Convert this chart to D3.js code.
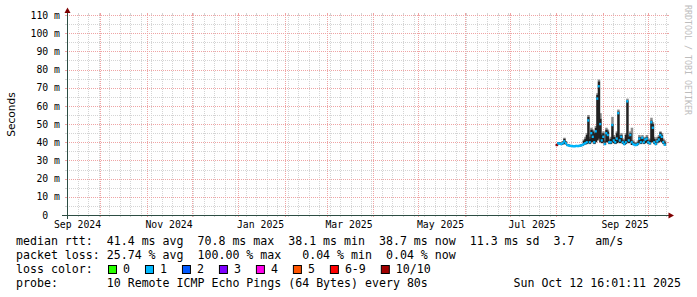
<!DOCTYPE html>
<html>
<head>
<meta charset="utf-8">
<script src="https://cdn.jsdelivr.net/npm/d3@7"></script>
<style>
body { margin: 0; background: #fff; }
text { font-family: "DejaVu Sans Mono", monospace; white-space: pre; }
</style>
</head>
<body>
<svg id="chart" width="697" height="297"></svg>
<script>
// one sample per day, first one is Aug 1 2025
var firstDay = new Date(2025, 7, 1)

// median rtt (ms) per day
var median = [38.5, 39.4, 39.2, 39, 39.5, 40.5, 39.5, 38.5, 38.2, 38,
  38, 37.8, 37.8, 38, 37.9, 38, 38.2, 38.5, 39, 39.5,
  40, 52, 40, 45, 43, 40, 46, 64, 70.8, 50,
  41, 43, 39, 45, 44, 40, 40, 49.5, 41, 40,
  42, 56, 41, 43, 40, 39, 40, 62.5, 41, 44,
  40, 39, 38.5, 38.5, 39, 42, 40, 42.5, 40, 41.5,
  42, 40, 39.5, 51, 48, 40, 39, 40.5, 41.5, 44,
  43, 40, 38.7]

// smoke (dark part) low / high, and light grey cap on top
var smokeLo = [38, 38.8, 38.6, 38.5, 38.8, 39, 38.8, 38, 37.8, 37.6,
  37.5, 37.4, 37.4, 37.5, 37.5, 37.6, 37.8, 38, 38.5, 38.8,
  39, 39.5, 39, 40, 40, 39, 40, 41, 42, 40,
  39.5, 40, 38.5, 40, 40, 39, 39, 40, 39.5, 39,
  39.5, 40, 39.5, 40, 39, 38.5, 39, 40, 39.5, 40,
  38.5, 38.5, 38, 38, 38.5, 39.5, 39, 40, 39, 39.5,
  40, 39, 38.8, 40, 40, 39, 38.5, 39.5, 40, 40.5,
  40, 39, 38.2]
var smokeHi = [39, 40, 40, 39.5, 40.5, 42, 40.5, 39, 38.8, 38.5,
  38.5, 38.3, 38.3, 38.5, 38.4, 38.5, 38.8, 39, 41, 42,
  44, 54, 42, 47, 46, 45, 48, 66, 73.5, 53,
  44, 45, 40, 47, 46, 41, 42, 50, 43, 42,
  45, 57, 43, 44, 41, 41, 44, 63, 43, 45,
  41, 40, 39, 39.5, 40, 43, 42, 43, 41, 42.5,
  43, 41, 41, 52, 50, 42, 40, 42, 43, 45.5,
  44, 41, 40]
var smokeTop = [39, 40, 40, 39.5, 40.5, 42.5, 40.5, 39, 38.8, 38.5,
  38.5, 38.3, 38.3, 38.5, 38.4, 38.5, 38.8, 39, 41.5, 43,
  45, 55, 43, 48, 47, 46, 49, 67, 74.5, 56,
  45, 46, 41, 48, 47, 42, 43, 54, 44, 43,
  46, 58, 44, 45, 42, 42, 45, 64, 44, 46,
  48, 41, 40, 40, 41, 44, 43, 44, 42, 43,
  44, 42, 42, 53.5, 51, 43, 41, 43, 44, 46,
  45, 42, 41]

// lost pings out of 10 per day
var lossCount = [10, 1, 1, 1, 1, 1, 1, 1, 1, 1,
  1, 1, 1, 1, 1, 1, 1, 1, 1, 1,
  1, 1, 1, 1, 1, 1, 1, 1, 1, 1,
  1, 1, 1, 1, 1, 1, 1, 1, 1, 1,
  1, 1, 1, 1, 1, 1, 1, 1, 1, 1,
  1, 1, 1, 1, 1, 1, 1, 1, 1, 1,
  1, 1, 1, 1, 1, 1, 1, 1, 1, 1,
  1, 1, 1]

var yTicks = [0, 10, 20, 30, 40, 50, 60, 70, 80, 90, 100, 110]
var yTickLabels = ["0  ", "10 m", "20 m", "30 m", "40 m", "50 m", "60 m", "70 m", "80 m", "90 m", "100 m", "110 m"]
var yMinor = [5, 15, 25, 35, 45, 55, 65, 75, 85, 95, 105]
var xTickLabels = ["Sep 2024", "Nov 2024", "Jan 2025", "Mar 2025", "May 2025", "Jul 2025", "Sep 2025"]
var xTickMonths = [new Date(2024, 8, 1), new Date(2024, 10, 1), new Date(2025, 0, 1), new Date(2025, 2, 1),
  new Date(2025, 4, 1), new Date(2025, 6, 1), new Date(2025, 8, 1)]

var lossLabels = ["0", "1", "2", "3", "4", "5", "6-9", "10/10"]
var lossColors = ["#26ff00", "#00b8ff", "#0059ff", "#7e00ff", "#ff00ea", "#ff5500", "#ff0000", "#a10000"]

var legendLines = [
  "median rtt:  41.4 ms avg  70.8 ms max  38.1 ms min  38.7 ms now  11.3 ms sd  3.7   am/s",
  "packet loss: 25.74 % avg  100.00 % max   0.04 % min  0.04 % now"
]
var probeText = "probe:       10 Remote ICMP Echo Pings (64 Bytes) every 80s"
var stampText = "Sun Oct 12 16:01:11 2025"

var gridColor = "#d4d4d4"
var mgridColor = "#efa4a4"
var axisColor = "#2c4d43"
var arrowColor = "#7f0000"

var svg = d3.select("#chart")

var x = d3.scaleTime()
  .domain([new Date(2024, 8, 9), new Date(2025, 9, 14)])
  .range([67, 667])
var y = d3.scaleLinear().domain([0, 110]).range([215, 15])

function px(v) { return Math.round(v) + 0.5 }

var grid = svg.append("g")

// horizontal grid
function hline(v, col) {
  var yy = px(y(v))
  grid.append("line").attr("x1", 65).attr("x2", 67).attr("y1", yy).attr("y2", yy).attr("stroke", col)
  grid.append("line").attr("x1", 667).attr("x2", 669).attr("y1", yy).attr("y2", yy).attr("stroke", col)
  grid.append("line").attr("x1", 65).attr("x2", 669).attr("y1", yy).attr("y2", yy)
    .attr("stroke", col).attr("stroke-dasharray", "1,1")
}
// vertical grid
function vline(d, col) {
  var xx = px(x(d))
  if (xx < 67 || xx > 668) return
  grid.append("line").attr("x1", xx).attr("x2", xx).attr("y1", 13).attr("y2", 15).attr("stroke", col)
  grid.append("line").attr("x1", xx).attr("x2", xx).attr("y1", 215).attr("y2", 217).attr("stroke", col)
  grid.append("line").attr("x1", xx).attr("x2", xx).attr("y1", 13).attr("y2", 217)
    .attr("stroke", col).attr("stroke-dasharray", "1,1")
}

yMinor.forEach(function(v) { hline(v, gridColor) })
d3.timeMonday.range(x.domain()[0], x.domain()[1]).forEach(function(d) { vline(d, gridColor) })
yTicks.slice(1).forEach(function(v) { hline(v, mgridColor) })
d3.timeMonth.range(x.domain()[0], x.domain()[1]).forEach(function(d) { vline(d, mgridColor) })

// y labels
svg.append("g").selectAll("text")
  .data(yTicks)
  .enter()
  .append("text")
  .attr("x", 60)
  .attr("y", function(d) { return y(d) + 3.6 })
  .attr("text-anchor", "end")
  .attr("font-size", "9.8px")
  .text(function(d, i) { return yTickLabels[i] })

// x labels, rrdtool centres them half a month in
svg.append("g").selectAll("text")
  .data(xTickMonths)
  .enter()
  .append("text")
  .attr("x", function(d) { return x(d3.timeDay.offset(d, 15)) })
  .attr("y", 228)
  .attr("text-anchor", "middle")
  .attr("font-size", "9.8px")
  .text(function(d, i) { return xTickLabels[i] })

// samples
var days = median.map(function(m, i) { return d3.timeDay.offset(firstDay, i) })
function x0(d) { return x(d) }
function x1(d) { return x(d3.timeDay.offset(d, 1)) }

var smoke = svg.append("g")
smoke.selectAll("rect.top")
  .data(days)
  .enter()
  .append("rect")
  .attr("class", "top")
  .attr("x", function(d) { return x0(d) - 0.3 })
  .attr("width", function(d) { return x1(d) - x0(d) + 1 })
  .attr("y", function(d, i) { return y(smokeTop[i]) })
  .attr("height", function(d, i) { return Math.max(0, y(smokeHi[i]) - y(smokeTop[i])) })
  .attr("fill", "#8c8c8c")
smoke.selectAll("rect.body")
  .data(days)
  .enter()
  .append("rect")
  .attr("class", "body")
  .attr("x", function(d) { return x0(d) - 0.3 })
  .attr("width", function(d) { return x1(d) - x0(d) + 1 })
  .attr("y", function(d, i) { return y(smokeHi[i]) })
  .attr("height", function(d, i) { return y(smokeLo[i]) - y(smokeHi[i]) })
  .attr("fill", "#222")

function lossIndex(c) {
  if (c >= 10) return 7
  if (c >= 6) return 6
  return c
}

// median, one flat piece per sample coloured by loss
svg.append("g").selectAll("line")
  .data(days)
  .enter()
  .append("line")
  .attr("x1", function(d) { return x0(d) - 0.3 })
  .attr("x2", function(d) { return x1(d) + 0.3 })
  .attr("y1", function(d, i) { return y(median[i]) })
  .attr("y2", function(d, i) { return y(median[i]) })
  .attr("stroke", function(d, i) { return lossColors[lossIndex(lossCount[i])] })
  .attr("stroke-width", 2.4)

// axes
svg.append("line").attr("x1", 62).attr("x2", 669).attr("y1", 215.5).attr("y2", 215.5).attr("stroke", axisColor)
svg.append("line").attr("x1", 67.5).attr("x2", 67.5).attr("y1", 219).attr("y2", 12).attr("stroke", axisColor)
svg.append("path").attr("d", "M67.5,7.5L64.5,13L70.5,13Z").attr("fill", arrowColor)
svg.append("path").attr("d", "M674,215.5L668.5,212.5L668.5,218.5Z").attr("fill", arrowColor)

// vertical title + watermark
svg.append("text")
  .attr("transform", "translate(15,114.5) rotate(-90)")
  .attr("text-anchor", "middle")
  .style("font-family", "'DejaVu Sans', sans-serif")
  .attr("font-size", "10.6px")
  .text("Seconds")
svg.append("text")
  .attr("transform", "translate(684.5,5) rotate(90)")
  .attr("font-size", "8.3px")
  .attr("fill", "#bdbdbd")
  .text("RRDTOOL / TOBI OETIKER")

// legend
var charW = 6.98
var legend = svg.append("g").attr("font-size", "11.6px")
legendLines.forEach(function(t, i) {
  legend.append("text").attr("x", 16).attr("y", 245 + i * 14).text(t)
})
legend.append("text").attr("x", 16).attr("y", 273).text("loss color:")
var bx = 108
lossLabels.forEach(function(l, i) {
  legend.append("rect")
    .attr("x", bx + 0.5).attr("y", 265.5).attr("width", 8).attr("height", 8)
    .attr("fill", lossColors[i]).attr("stroke", "#000")
  legend.append("text").attr("x", bx + 15).attr("y", 273).text(l)
  bx = bx + 30 + charW * l.length
})
legend.append("text").attr("x", 16).attr("y", 287).text(probeText)
legend.append("text").attr("x", 681).attr("y", 287).attr("text-anchor", "end").text(stampText)
</script>
</body>
</html>
